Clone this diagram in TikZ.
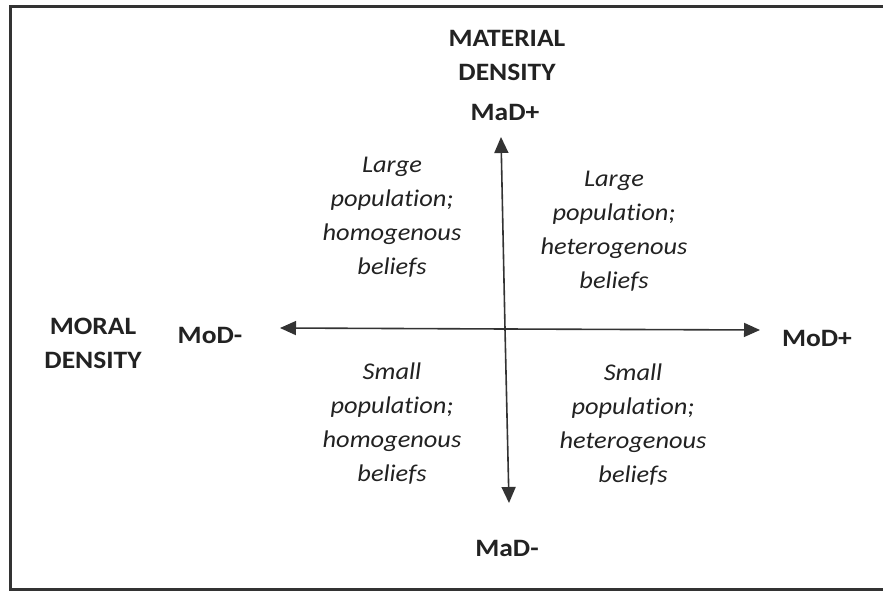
\documentclass[tikz,border=0pt]{standalone}
\usepackage{fontspec}
\setmainfont{Carlito}[Ligatures=NoCommon, FakeStretch=1.1]
\usetikzlibrary{arrows.meta}
\definecolor{ink}{HTML}{222222}
\definecolor{axis}{HTML}{333333}
\tikzset{
  head/.style={font=\bfseries\fontsize{25}{34}\selectfont, text=ink, align=center, inner sep=0pt},
  quad/.style={font=\itshape\fontsize{24}{34}\selectfont, text=ink, align=center, inner sep=0pt},
  axisline/.style={draw=axis, line width=1.6pt, -{Triangle[length=16pt,width=14pt]}},
}
\begin{document}
\begin{tikzpicture}[x=1pt,y=-1pt]
\useasboundingbox (0,0) rectangle (883,593);
\draw[draw=axis, line width=3pt] (890,7) -- (10,7) -- (10,589) -- (890,589);
% axis end points
\coordinate (top) at (501,137);
\coordinate (bot) at (509,503);
\coordinate (lft) at (280,328);
\coordinate (rgt) at (760,330);
\coordinate (c) at (505,329);
\draw[axisline] (c) -- (top);
\draw[axisline] (c) -- (bot);
\draw[axisline] (c) -- (lft);
\draw[axisline] (c) -- (rgt);
% labels
\node[head] (mat) at (507,55) {MATERIAL\\DENSITY};
\node[head] (madp) at (505,112) {MaD+};
\node[head] (madm) at (507,548) {MaD-};
\node[head] (mor) at (93,343) {MORAL\\DENSITY};
\node[head] (modm) at (210,335) {MoD-};
\node[head] (modp) at (817,338) {MoD+};
% quadrants
\node[quad] (ul) at (392,217) {Large\\population;\\homogenous\\beliefs};
\node[quad] (ur) at (614,231) {Large\\population;\\heterogenous\\beliefs};
\node[quad] (ll) at (392,424) {Small\\population;\\homogenous\\beliefs};
\node[quad] (lr) at (633,425) {Small\\population;\\heterogenous\\beliefs};
\end{tikzpicture}
\end{document}
